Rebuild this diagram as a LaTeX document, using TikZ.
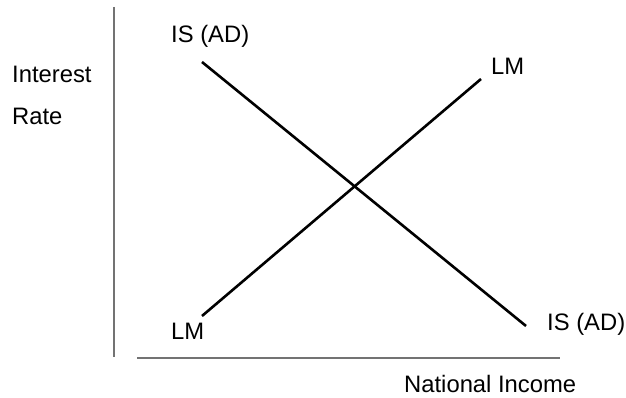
\documentclass[tikz,border=0pt]{standalone}
\usepackage{fontspec}
\setmainfont{Liberation Sans}
\begin{document}
\begin{tikzpicture}[x=1pt,y=1pt,
  lbl/.style={anchor=base west,inner sep=0pt,font=\fontsize{23.8}{28}\selectfont},
  axisline/.style={draw=black!55,line width=1.5pt},
  curve/.style={draw=black,line width=2.6pt}]
\useasboundingbox (0,0) rectangle (626,398);
% axes
\coordinate (ytop) at (114,391);
\coordinate (ybot) at (114,41);
\coordinate (xl) at (137,40);
\coordinate (xr) at (560,40);
\draw[axisline] (ytop) -- (ybot);
\draw[axisline] (xl) -- (xr);
% curves
\coordinate (is1) at (202,336);
\coordinate (is2) at (526,72);
\coordinate (lm1) at (202,82);
\coordinate (lm2) at (481,319);
\draw[curve] (is1) -- (is2);
\draw[curve] (lm1) -- (lm2);
% labels
\node[lbl] (isTop) at (171,355) {IS (AD)};
\node[lbl] (lmTop) at (491,323) {LM};
\node[lbl] (interest) at (12,315) {Interest};
\node[lbl] (rate) at (12,273) {Rate};
\node[lbl] (lmBot) at (171,58) {LM};
\node[lbl] (isBot) at (547,67) {IS (AD)};
\node[lbl] (natinc) at (404,5) {National Income};
\end{tikzpicture}
\end{document}
